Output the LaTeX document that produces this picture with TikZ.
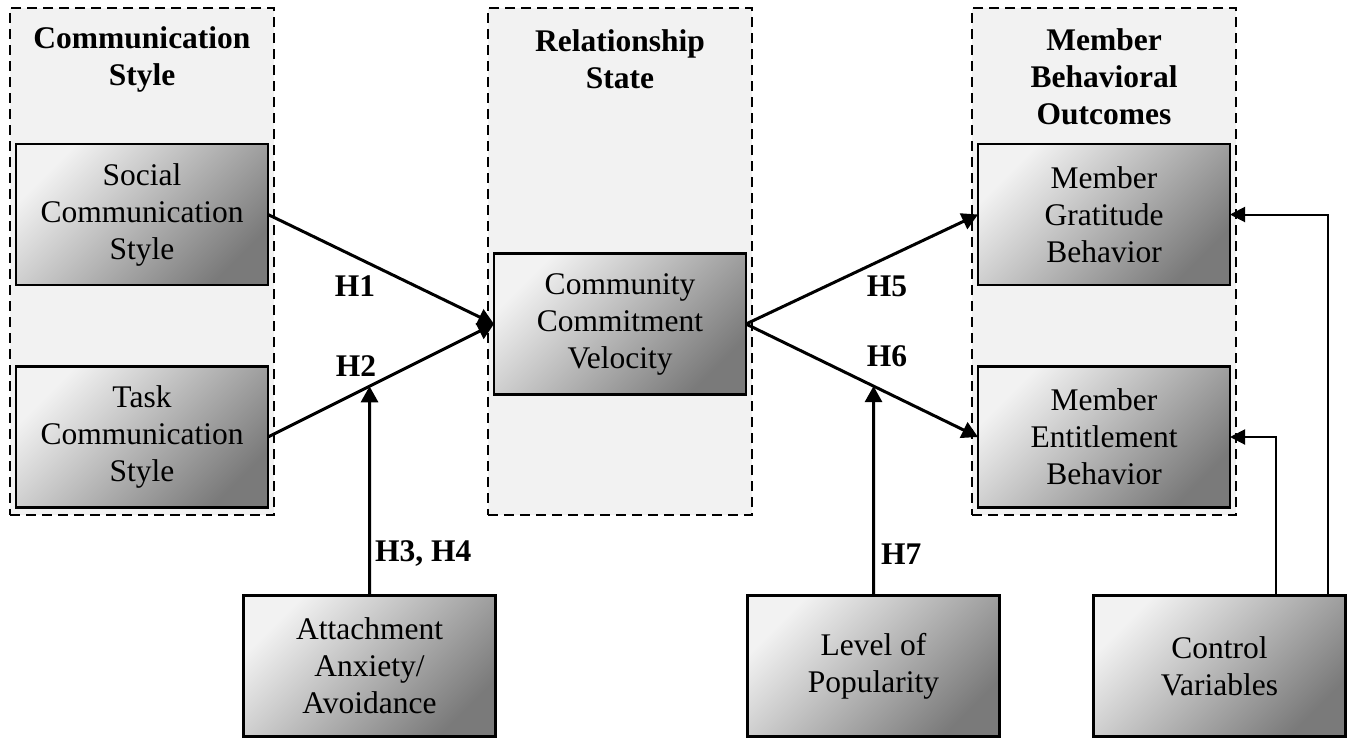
\documentclass[tikz,border=0pt]{standalone}
\usepackage{fontspec}
\setmainfont{Liberation Serif}
\usetikzlibrary{arrows.meta,calc}
\begin{document}
\begin{tikzpicture}[x=1pt,y=-1pt,
  grp/.style={draw=black,line width=2pt,dash pattern=on 10pt off 6pt,fill=black!5,minimum width=264pt,minimum height=507pt,inner sep=0pt,outer sep=0pt},
  var/.style={draw=black,line width=2.2pt,shading=axis,top color=black!5,bottom color=black!52,shading angle=45,minimum width=252pt,minimum height=141pt,inner sep=0pt,outer sep=0pt,align=center,font=\fontsize{31.5}{37}\selectfont},
  ttl/.style={align=center,font=\fontsize{31.5}{37}\selectfont\bfseries,inner sep=0pt},
  lbl/.style={font=\fontsize{31.5}{37}\selectfont\bfseries,inner sep=0pt},
  hyp/.style={line width=3pt,-{Triangle[length=16pt,width=17pt]}},
  ctrl/.style={line width=2pt,-{Triangle[length=15pt,width=15pt]}}]
\useasboundingbox (0,0) rectangle (1355,737);
% groups
\node[grp] (g1) at (142,261.5) {};
\node[grp] (g2) at (620,261.5) {};
\node[grp] (g3) at (1104,261.5) {};
\node[ttl] (t1) at (142,59) {Communication\\Style};
\node[ttl] (t2) at (620,59) {Relationship\\State};
\node[ttl] (t3) at (1104,77) {Member\\Behavioral\\Outcomes};
% variables
\node[var] (soc) at (142,214.5) {Social\\Communication\\Style};
\node[var] (task) at (142,437) {Task\\Communication\\Style};
\node[var] (com) at (620,324) {Community\\Commitment\\Velocity};
\node[var] (grat) at (1104,214.5) {Member\\Gratitude\\Behavior};
\node[var] (ent) at (1104,437) {Member\\Entitlement\\Behavior};
\node[var] (att) at (369.5,666) {Attachment\\Anxiety/\\Avoidance};
\node[var] (lvl) at (873.5,666) {Level of\\Popularity};
\node[var] (ctl) at (1219.5,666) {Control\\Variables};
% paths
\draw[hyp] (soc.east) -- (com.west);
\draw[hyp] (task.east) -- (com.west);
\draw[hyp] (com.east) -- (grat.west);
\draw[hyp] (com.east) -- (ent.west);
\coordinate (m2) at (intersection of task.east--com.west and att.north--att.center);
\coordinate (m6) at (intersection of com.east--ent.west and lvl.north--lvl.center);
\draw[hyp] (att.north) -- (m2);
\draw[hyp] (lvl.north) -- (m6);
\draw[ctrl] ([xshift=108.5pt]ctl.north) |- (grat.east);
\draw[ctrl] ([xshift=56.5pt]ctl.north) |- (ent.east);
% labels
\node[lbl] (h1) at (355,286) {H1};
\node[lbl] (h2) at (356,366) {H2};
\node[lbl] (h5) at (887,286) {H5};
\node[lbl] (h6) at (887,356) {H6};
\node[lbl,anchor=west] (h34) at (375,554) {H3, H4};
\node[lbl,anchor=west] (h7) at (881,554) {H7};
\end{tikzpicture}
\end{document}
